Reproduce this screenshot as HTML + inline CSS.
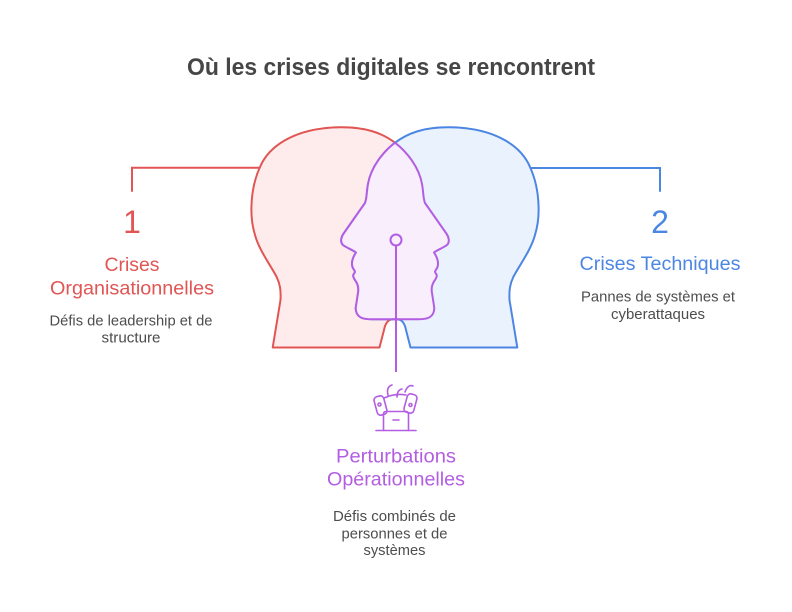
<!DOCTYPE html>
<html><head><meta charset="utf-8"><style>
html,body{margin:0;padding:0;background:#fff;}
svg{display:block;}
text{font-family:"Liberation Sans",Arial,sans-serif;}
</style></head><body>
<svg width="792" height="612" viewBox="0 0 792 612" xmlns="http://www.w3.org/2000/svg">
<defs>
<path id="head" d="M272.7,347.5 L280.5,300 C281,290 280,284 276.7,277 C271,266 259,250 255,235 C252,225 251,215 251.5,205 C252,190 255,178 260,167 C268,148 292,128 340,127.3 C366,127 382,133 395,142.7 C407,152 419,167 422,184 C423.5,192 423,198 425,203 L446,233 C449,237 450,242 447,245 C443,248 437,250 434,252.5 C437,257 439,262 437.5,267 C436.5,270 434,271 435.5,273 C437.5,275 437,277 435,280 C432,284 431,288 432,293 L434,306 C435,311 433,316 428,318 C424,319.5 420,319.3 416,319.3 L392,319.3 C387,320 385,325 384,330 L379.5,347.5 Z"/>
<path id="face" d="M395,142.7 C407,152 419,167 422,184 C423.5,192 423,198 425,203 L446,233 C449,237 450,242 447,245 C443,248 437,250 434,252.5 C437,257 439,262 437.5,267 C436.5,270 434,271 435.5,273 C437.5,275 437,277 435,280 C432,284 431,288 432,293 L434,306 C435,311 433,316 428,318 C424,319.5 420,319.3 416,319.3 L392,319.3"/>
<clipPath id="clipL"><use href="#head"/></clipPath>
</defs>

<!-- title -->
<text x="391" y="75" text-anchor="middle" font-size="24" font-weight="bold" fill="#464646" textLength="408" lengthAdjust="spacingAndGlyphs">Où les crises digitales se rencontrent</text>

<!-- connectors -->
<path d="M132,191.7 L132,167.7 L262,167.7" fill="none" stroke="#e15554" stroke-width="2"/>
<path d="M660,191.7 L660,168 L528,168" fill="none" stroke="#4c86e3" stroke-width="2"/>

<!-- left head -->
<use href="#head" fill="#fdeceb" stroke="#e15554" stroke-width="2" stroke-linejoin="round"/>
<!-- right head (mirror) -->
<g transform="translate(790,0) scale(-1,1)">
<use href="#head" fill="#eaf2fd" stroke="#4c86e3" stroke-width="2" stroke-linejoin="round"/>
</g>
<!-- intersection -->
<g clip-path="url(#clipL)">
<g transform="translate(790,0) scale(-1,1)">
<use href="#head" fill="#f9eefc" stroke="none"/>
</g>
</g>
<use href="#face" fill="none" stroke="#b35ee2" stroke-width="2" stroke-linejoin="round"/>
<g transform="translate(790,0) scale(-1,1)">
<use href="#face" fill="none" stroke="#b35ee2" stroke-width="2" stroke-linejoin="round"/>
</g>

<!-- center connector -->
<line x1="396" y1="245.5" x2="396" y2="372" stroke="#b35ee2" stroke-width="2"/>
<circle cx="396" cy="240" r="5.5" fill="#f9eefc" stroke="#b35ee2" stroke-width="2"/>

<!-- icon -->
<g fill="none" stroke="#b35ee2" stroke-width="1.6" stroke-linecap="round" stroke-linejoin="round">
<rect x="375.5" y="396" width="10" height="19" rx="3.5" transform="rotate(-15 380.5 405.5)"/>
<circle cx="379.5" cy="404.5" r="1.5"/>
<rect x="405.5" y="394" width="10" height="19" rx="3.5" transform="rotate(15 410.5 403.5)"/>
<circle cx="410.5" cy="405" r="1.5"/>
<path d="M384,398 Q395,393 406,395"/>
<path d="M388,395 Q386,387 392,385"/>
<path d="M397,397 Q397,390 402,389"/>
<path d="M405,392 Q408,384 413,386"/>
<path d="M383.5,430.5 L383.5,414 Q383.5,411.5 386,411.5 L406,411.5 Q408.5,411.5 408.5,414 L408.5,430.5"/>
<line x1="376" y1="430.5" x2="416" y2="430.5"/>
<line x1="393" y1="420" x2="399" y2="420"/>
</g>

<!-- left label -->
<text x="132" y="233" text-anchor="middle" font-size="32" fill="#e15554">1</text>
<text x="132" y="271" text-anchor="middle" font-size="19.5" fill="#e15554" textLength="55" lengthAdjust="spacingAndGlyphs">Crises</text>
<text x="132" y="294.3" text-anchor="middle" font-size="19.5" fill="#e15554" textLength="164" lengthAdjust="spacingAndGlyphs">Organisationnelles</text>
<text x="131" y="325.7" text-anchor="middle" font-size="14.5" fill="#4d4d4d" textLength="163" lengthAdjust="spacingAndGlyphs">Défis de leadership et de</text>
<text x="131" y="342.3" text-anchor="middle" font-size="14.5" fill="#4d4d4d" textLength="59" lengthAdjust="spacingAndGlyphs">structure</text>

<!-- right label -->
<text x="660" y="233" text-anchor="middle" font-size="32" fill="#4c86e3">2</text>
<text x="660" y="270" text-anchor="middle" font-size="19.5" fill="#4c86e3" textLength="161" lengthAdjust="spacingAndGlyphs">Crises Techniques</text>
<text x="658" y="301.7" text-anchor="middle" font-size="14.5" fill="#4d4d4d" textLength="154" lengthAdjust="spacingAndGlyphs">Pannes de systèmes et</text>
<text x="658" y="319" text-anchor="middle" font-size="14.5" fill="#4d4d4d" textLength="94" lengthAdjust="spacingAndGlyphs">cyberattaques</text>

<!-- bottom label -->
<text x="396" y="462.3" text-anchor="middle" font-size="19.5" fill="#b35ee2" textLength="120" lengthAdjust="spacingAndGlyphs">Perturbations</text>
<text x="396" y="485.7" text-anchor="middle" font-size="19.5" fill="#b35ee2" textLength="138" lengthAdjust="spacingAndGlyphs">Opérationnelles</text>
<text x="394.5" y="521" text-anchor="middle" font-size="14.5" fill="#4d4d4d" textLength="123" lengthAdjust="spacingAndGlyphs">Défis combinés de</text>
<text x="394.5" y="538.3" text-anchor="middle" font-size="14.5" fill="#4d4d4d" textLength="106" lengthAdjust="spacingAndGlyphs">personnes et de</text>
<text x="394.5" y="555" text-anchor="middle" font-size="14.5" fill="#4d4d4d" textLength="62" lengthAdjust="spacingAndGlyphs">systèmes</text>
</svg>
</body></html>
